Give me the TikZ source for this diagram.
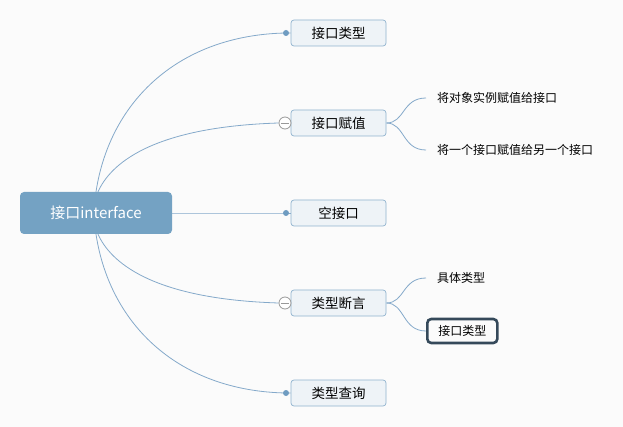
\documentclass[tikz,border=0pt]{standalone}
\usepackage{fontspec}
\setmainfont{Noto Sans CJK SC}
\usetikzlibrary{backgrounds}
\definecolor{linkblue}{HTML}{84A9CA}
\definecolor{dotblue}{HTML}{6F9CC1}
\definecolor{rootblue}{HTML}{74A2C3}
\definecolor{boxfill}{HTML}{EEF3F7}
\definecolor{boxline}{HTML}{90B3CF}
\definecolor{pagebg}{HTML}{FBFBFB}
\definecolor{selline}{HTML}{35495A}
\tikzset{
  rootbox/.style={fill=rootblue, rounded corners=4pt, minimum width=152pt, minimum height=42pt, inner sep=0pt, text=white, font=\fontsize{15}{18}\selectfont},
  topicbox/.style={draw=boxline, line width=0.7pt, fill=boxfill, rounded corners=3pt, minimum width=95pt, minimum height=26pt, inner sep=0pt, font=\fontsize{13.5}{16}\selectfont},
  subtopic/.style={anchor=west, inner xsep=11pt, inner ysep=0pt, minimum height=24pt, font=\fontsize{12}{14}\selectfont},
  selbox/.style={subtopic, draw=selline, line width=2.6pt, rounded corners=4pt},
  link/.style={draw=linkblue, line width=0.8pt},
  linkdot/.style={circle, fill=dotblue, inner sep=0pt, minimum size=6pt},
  foldmark/.style={circle, draw=gray!80, line width=0.8pt, fill=white, inner sep=0pt, minimum size=12pt,
    path picture={\draw[gray!80, line width=0.8pt] ([xshift=-4pt]path picture bounding box.center) -- ([xshift=4pt]path picture bounding box.center);}}
}

\begin{document}
\begin{tikzpicture}[x=1pt, y=-1pt]
		\useasboundingbox (0, 0) rectangle (623, 427);
		
		% root and topics
		\node[rootbox] (root) at (96, 213) {接口interface};
		\node[topicbox] (type) at (338.5, 33) {接口类型};
		\node[topicbox] (assign) at (338.5, 123) {接口赋值};
		\node[topicbox] (empty) at (338.5, 213) {空接口};
		\node[topicbox] (assert) at (338.5, 303) {类型断言};
		\node[topicbox] (query) at (338.5, 393) {类型查询};
		
		% subtopics
		\node[subtopic] (objassign) at (426, 98) {将对象实例赋值给接口};
		\node[subtopic] (ifassign) at (426, 150) {将一个接口赋值给另一个接口};
		\node[subtopic] (concrete) at (426, 278) {具体类型};
		\node[selbox] (iftype) at (426, 331) {接口类型};
		
		% connector ends
		\node[linkdot] (typedot) at (286, 33) {};
		\node[foldmark] (assignfold) at (285, 123) {};
		\node[linkdot] (emptydot) at (286, 213) {};
		\node[foldmark] (assertfold) at (285, 303) {};
		\node[linkdot] (querydot) at (286, 393) {};
		
		\begin{scope}[on background layer]
		\fill[pagebg] (0, 0) rectangle (623, 427);
		\draw[link] (root.center) -- (root.north) .. controls (110, 100) and (180, 35) .. (typedot.center) -- (type.west);
		\draw[link] (root.center) -- ([xshift=2pt]root.north) .. controls (110, 165) and (150, 127) .. (assignfold.west);
		\draw[link] (root.east) -- (emptydot.center) -- (empty.west);
		\draw[link] (root.center) -- ([xshift=2pt]root.south) .. controls (110, 261) and (150, 299) .. (assertfold.west);
		\draw[link] (root.center) -- (root.south) .. controls (110, 326) and (180, 391) .. (querydot.center) -- (query.west);
		
		\draw[link] (assign.east) .. controls (405, 123) and (402, 98) .. (objassign.west);
		\draw[link] (assign.east) .. controls (405, 123) and (402, 150) .. (ifassign.west);
		\draw[link] (assert.east) .. controls (405, 303) and (402, 278) .. (concrete.west);
		\draw[link] (assert.east) .. controls (405, 303) and (402, 331) .. (iftype.west);
		\end{scope}
		
	\end{tikzpicture}
\end{document}
